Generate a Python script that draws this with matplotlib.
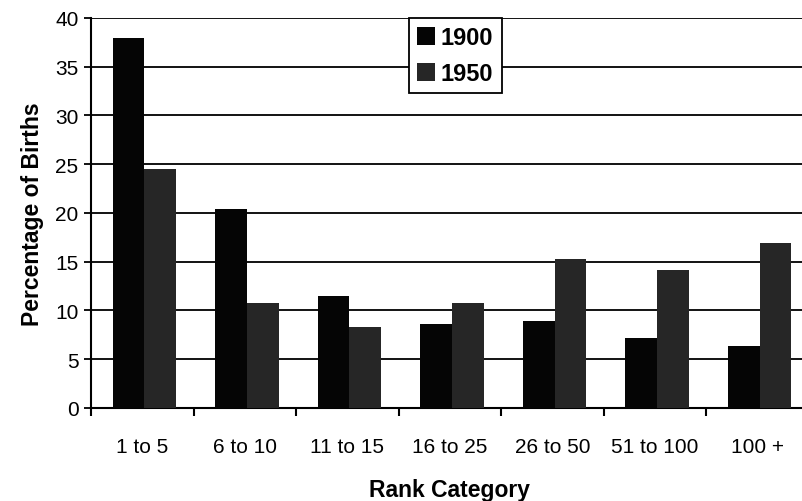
import matplotlib.pyplot as plt
import numpy as np

plt.rcParams['font.family'] = ['Liberation Sans', 'DejaVu Sans']

categories = ['1 to 5', '6 to 10', '11 to 15', '16 to 25', '26 to 50', '51 to 100', '100 +']
births_1900 = [37.9, 20.4, 11.5, 8.6, 8.9, 7.2, 6.4]
births_1950 = [24.5, 10.8, 8.3, 10.8, 15.3, 14.1, 16.9]

fig = plt.figure(figsize=(8.03, 5.02), dpi=100)
ax = fig.add_axes([0.1133, 0.1853, 0.894, 0.777])

x = np.arange(len(categories))
w = 0.31
ax.bar(x - w / 2 + 0.02, births_1900, w, color='#050505', label='1900', zorder=3)
ax.bar(x + w / 2 + 0.02, births_1950, w, color='#262626', label='1950', zorder=3)

ax.set_xlim(-0.5, len(categories) - 0.5)
ax.set_ylim(0, 40)
ax.set_yticks(np.arange(0, 41, 5))
ax.yaxis.grid(True, color='black', linewidth=1.3, zorder=0)

# boundary ticks, labels at the centers
ax.set_xticks(np.arange(-0.5, len(categories), 1))
ax.set_xticklabels([])
ax.set_xticks(x, minor=True)
ax.set_xticklabels(categories, minor=True)
ax.tick_params(axis='x', which='major', length=6, width=1.5, direction='out')
ax.tick_params(axis='x', which='minor', length=0, pad=21, labelsize=15)
ax.tick_params(axis='y', length=5, width=1.3, labelsize=15, pad=4)

for s in ['top', 'right']:
    ax.spines[s].set_visible(False)
ax.spines['left'].set_linewidth(1.5)
ax.spines['bottom'].set_linewidth(1.5)

ax.set_ylabel('Percentage of Births', fontsize=16.5, fontweight='bold', labelpad=8)
ax.set_xlabel('Rank Category', fontsize=16.5, fontweight='bold', labelpad=16)

leg = ax.legend(loc='upper left', bbox_to_anchor=(0.443, 1.0), borderaxespad=0,
                fancybox=False, edgecolor='black', framealpha=1, fontsize=17,
                handlelength=0.75, handleheight=0.75, handletextpad=0.25,
                borderpad=0.35, labelspacing=0.55)
leg.get_frame().set_linewidth(1.3)
for t in leg.get_texts():
    t.set_fontweight('bold')

fig.savefig('out.png', dpi=100)
